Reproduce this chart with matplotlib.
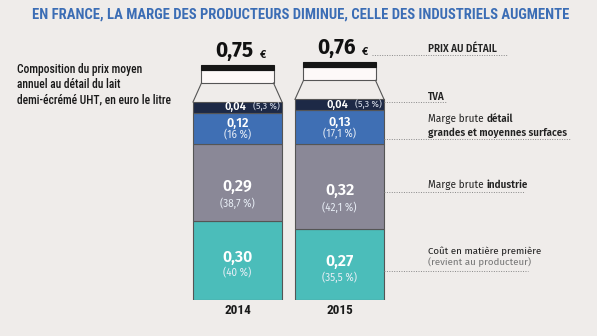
import matplotlib.pyplot as plt
from matplotlib.patches import Rectangle
import matplotlib.font_manager as fm

# data (euro per litre, and share of retail price)
years = ['2014', '2015']
prix = [0.75, 0.76]
cout = [0.30, 0.27]
industrie = [0.29, 0.32]
detail = [0.12, 0.13]
tva = [0.04, 0.04]
cout_pct = ['(40 %)', '(35,5 %)']
industrie_pct = ['(38,7 %)', '(42,1 %)']
detail_pct = ['(16 %)', '(17,1 %)']
tva_pct = ['(5,3 %)', '(5,3 %)']

bg = '#efecea'
c_cout = '#4bbdba'
c_ind = '#8a8897'
c_det = '#3f6fb4'
c_tva = '#1d2946'
edge = '#555555'

weights = {}
for f in fm.fontManager.ttflist:
    if f.style == 'normal' and f.stretch == 'normal' or 'Condensed' in f.name or 'Narrow' in f.name:
        weights.setdefault(f.name, set()).add(f.weight)


def pick(*cands):
    ok = [c for c in cands if {400, 700} <= weights.get(c, set())]
    return ok[:1] + ['DejaVu Sans']


narrow = pick('Roboto Condensed', 'Barlow Condensed', 'Archivo Narrow', 'Asap Condensed')
sans = pick('Source Sans 3', 'Source Sans Pro', 'Fira Sans', 'Noto Sans', 'Open Sans')

W, H = 597, 336
fig = plt.figure(figsize=(W / 100, H / 100), dpi=100, facecolor=bg)

# main axes: y in euro, 264 px per euro, baseline at pixel 300
ax = fig.add_axes([0, 36 / H, 1, 300 / H])
ax.set_ylim(0, 300 / 264)
ax.set_xlim(-237.5 / 102, (W - 237.5) / 102)
ax.axis('off')

x = [0, 1]
bw = 0.873
b1 = cout
b2 = [a + b for a, b in zip(b1, industrie)]
b3 = [a + b for a, b in zip(b2, detail)]
kw = dict(width=bw, edgecolor=edge, linewidth=0.8)
ax.bar(x, cout, color=c_cout, **kw)
ax.bar(x, industrie, bottom=b1, color=c_ind, **kw)
ax.bar(x, detail, bottom=b2, color=c_det, **kw)
ax.bar(x, tva, bottom=b3, color=c_tva, **kw)

# bottle neck and cap above each bar
neck, box, band, cap = 0.072, 0.050, 0.019, 0.353
for i, p in enumerate(prix):
    ax.plot([i - bw / 2, i - cap], [p, p + neck], color=edge, lw=0.8)
    ax.plot([i + bw / 2, i + cap], [p, p + neck], color=edge, lw=0.8)
    ax.add_patch(Rectangle((i - cap, p + neck), 2 * cap, box, facecolor='#fdf9f8',
                           edgecolor=edge, lw=0.8))
    ax.add_patch(Rectangle((i - cap, p + neck + box), 2 * cap, band, facecolor='#161616',
                           edgecolor='#161616', lw=0.8))
    top = p + neck + box + band
    ax.annotate(f'{p:.2f}'.replace('.', ','), (i - 0.03, top), xytext=(0, 2.5),
                textcoords='offset points', ha='center', va='bottom', fontsize=15,
                fontweight='bold', family=sans, color='#111111')
    ax.annotate('€', (i + 0.25, top), xytext=(0, 3.5), textcoords='offset points',
                ha='center', va='bottom', fontsize=7.5, fontweight='bold', family=sans,
                color='#111111')
    ax.annotate(years[i], (i, 0), xytext=(0, -7.5), textcoords='offset points',
                ha='center', va='center', fontsize=9.5, fontweight='semibold',
                family=narrow, color='#1a1a1a')


def fmt(v):
    return f'{v:.2f}'.replace('.', ',')


def seg_label(i, mid, val, pct, dv, dp, size):
    ax.annotate(fmt(val), (i, mid), xytext=(0, dv), textcoords='offset points',
                ha='center', va='center', fontsize=size, fontweight='semibold',
                family=sans, color='white')
    ax.annotate(pct, (i, mid), xytext=(0, dp), textcoords='offset points',
                ha='center', va='center', fontsize=7.2, family=sans, color='#e8eef6')


for i in x:
    seg_label(i, cout[i] / 2, cout[i], cout_pct[i], 2, -9.5, 11.5)
    seg_label(i, b1[i] + industrie[i] / 2, industrie[i], industrie_pct[i], -3, -15, 11.5)
    seg_label(i, b2[i] + detail[i] / 2, detail[i], detail_pct[i], 3.5, -4.5, 9)
    mt = b3[i] + tva[i] / 2
    ax.annotate(fmt(tva[i]), (i - 0.02, mt), xytext=(0, 0), textcoords='offset points',
                ha='center', va='center', fontsize=8, fontweight='semibold',
                family=sans, color='white')
    ax.annotate(tva_pct[i], (i + 0.28, mt), xytext=(0, 0.5), textcoords='offset points',
                ha='center', va='center', fontsize=6.5, family=sans, color='#d8deea')

# overlay in pixel coordinates for titles and right-hand legend
ov = fig.add_axes([0, 0, 1, 1], facecolor='none')
ov.set_xlim(0, W)
ov.set_ylim(H, 0)
ov.axis('off')

title = ov.text(301, 15, 'EN FRANCE, LA MARGE DES PRODUCTEURS DIMINUE, CELLE DES INDUSTRIELS AUGMENTE',
                ha='center', va='center', fontsize=14, fontweight='bold', family=narrow,
                color='#3b6db5')
sub = []
for k, line in enumerate(['Composition du prix moyen', 'annuel au détail du lait',
                          'demi-écrémé UHT, en euro le litre']):
    sub.append(ov.text(17, 70 + 15 * k, line, ha='left', va='center', fontsize=10,
                       family=narrow, fontweight='medium', color='#1a1a1a'))

fig.canvas.draw()
rend = fig.canvas.get_renderer()

# fit title and subtitle widths to the reference
tw = title.get_window_extent(rend).width
title.set_fontsize(min(14, 14 * 538 / tw))
sw = sub[2].get_window_extent(rend).width
for t in sub:
    t.set_fontsize(min(10.5, 10 * 153 / sw))


def mixed(xp, yp, parts, size=7.2):
    for txt, wt, col in parts:
        t = ov.text(xp, yp, txt, ha='left', va='baseline', fontsize=size, fontweight=wt,
                    family=sans, color=col)
        xp += t.get_window_extent(rend).width


dark = '#222222'
mixed(428, 52, [('PRIX AU DÉTAIL', 'semibold', dark)])
mixed(428, 100, [('TVA', 'semibold', dark)])
mixed(428, 122, [('Marge brute ', 'normal', dark), ('détail', 'semibold', dark)])
mixed(428, 135.5, [('grandes et moyennes surfaces', 'semibold', dark)])
mixed(428, 188, [('Marge brute ', 'normal', dark), ('industrie', 'semibold', dark)])
mixed(428, 254.5, [('Coût en matière première', 'normal', dark)], 7)
mixed(428, 265.5, [('(revient au producteur)', 'normal', '#777777')], 7)

leaders = [(372, 508, 55), (384, 447, 102), (384, 570, 139), (384, 525, 192), (384, 528, 271)]
for x0, x1, y in leaders:
    ov.plot([x0, x1], [y, y], color='#888888', lw=0.7, ls=(0, (1, 1.5)))

fig.savefig('out.png', dpi=100, facecolor=bg)
